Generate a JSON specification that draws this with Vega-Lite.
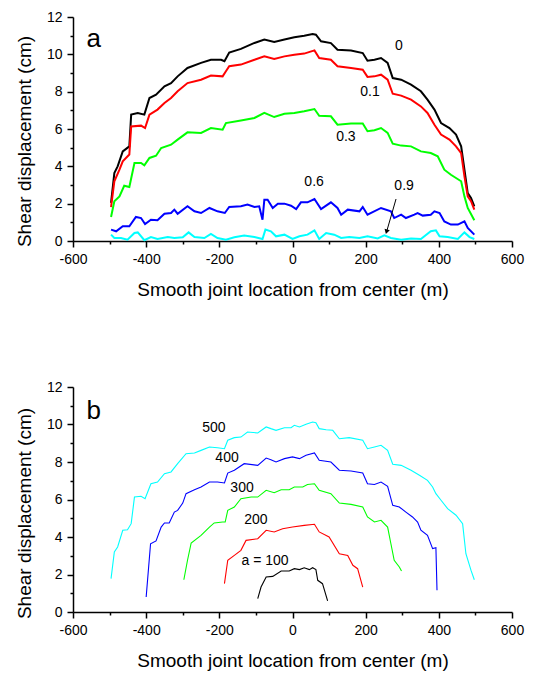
{
  "$schema": "https://vega.github.io/schema/vega-lite/v6.json",
  "padding": {"left": 15, "top": 10, "right": 5, "bottom": 5},
  "background": "white",
  "config": {
    "view": {"stroke": null},
    "font": "Liberation Sans",
    "axis": {"grid": false, "domainColor": "black", "domainWidth": 1.5, "tickColor": "black", "tickWidth": 1.5, "labelColor": "black", "labelFont": "Liberation Sans", "labelFontSize": 14, "titleFont": "Liberation Sans", "titleFontSize": 19, "titleFontWeight": "normal", "titleColor": "black", "labelFlush": false, "labelOverlap": false, "labelPadding": 5}
  },
  "datasets": {
    "curvesA": [
      {"s":"0","x":-496,"y":2.04},{"s":"0","x":-487,"y":3.64},{"s":"0","x":-478,"y":4.0},{"s":"0","x":-464,"y":4.8},{"s":"0","x":-446,"y":5.07},{"s":"0","x":-441,"y":6.77},{"s":"0","x":-423,"y":6.86},{"s":"0","x":-405,"y":6.77},{"s":"0","x":-391,"y":7.66},{"s":"0","x":-373,"y":7.84},{"s":"0","x":-350,"y":8.29},{"s":"0","x":-332,"y":8.46},{"s":"0","x":-314,"y":8.82},{"s":"0","x":-287,"y":9.27},{"s":"0","x":-250,"y":9.54},{"s":"0","x":-223,"y":9.71},{"s":"0","x":-195,"y":9.71},{"s":"0","x":-186,"y":9.63},{"s":"0","x":-173,"y":10.1},{"s":"0","x":-141,"y":10.29},{"s":"0","x":-104,"y":10.61},{"s":"0","x":-77,"y":10.79},{"s":"0","x":-50,"y":10.66},{"s":"0","x":-22,"y":10.79},{"s":"0","x":5,"y":10.91},{"s":"0","x":32,"y":11.0},{"s":"0","x":55,"y":11.09},{"s":"0","x":64,"y":11.05},{"s":"0","x":78,"y":10.7},{"s":"0","x":105,"y":10.6},{"s":"0","x":123,"y":10.25},{"s":"0","x":160,"y":10.21},{"s":"0","x":192,"y":10.07},{"s":"0","x":205,"y":9.66},{"s":"0","x":224,"y":9.71},{"s":"0","x":242,"y":9.8},{"s":"0","x":260,"y":9.54},{"s":"0","x":274,"y":8.73},{"s":"0","x":297,"y":8.64},{"s":"0","x":324,"y":8.38},{"s":"0","x":351,"y":8.02},{"s":"0","x":369,"y":7.57},{"s":"0","x":388,"y":7.04},{"s":"0","x":406,"y":6.32},{"s":"0","x":429,"y":6.05},{"s":"0","x":447,"y":5.7},{"s":"0","x":461,"y":5.07},{"s":"0","x":470,"y":3.82},{"s":"0","x":479,"y":2.57},{"s":"0","x":488,"y":2.3},{"s":"0","x":497,"y":1.86},
      {"s":"0.1","x":-496,"y":1.82},{"s":"0.1","x":-487,"y":3.2},{"s":"0.1","x":-473,"y":3.82},{"s":"0.1","x":-464,"y":4.27},{"s":"0.1","x":-446,"y":4.63},{"s":"0.1","x":-441,"y":6.14},{"s":"0.1","x":-414,"y":6.18},{"s":"0.1","x":-403,"y":6.05},{"s":"0.1","x":-391,"y":6.77},{"s":"0.1","x":-369,"y":7.04},{"s":"0.1","x":-350,"y":7.39},{"s":"0.1","x":-332,"y":7.66},{"s":"0.1","x":-314,"y":8.02},{"s":"0.1","x":-287,"y":8.46},{"s":"0.1","x":-250,"y":8.64},{"s":"0.1","x":-223,"y":8.86},{"s":"0.1","x":-191,"y":8.82},{"s":"0.1","x":-182,"y":9.09},{"s":"0.1","x":-173,"y":9.36},{"s":"0.1","x":-141,"y":9.45},{"s":"0.1","x":-104,"y":9.71},{"s":"0.1","x":-77,"y":9.89},{"s":"0.1","x":-50,"y":9.75},{"s":"0.1","x":-22,"y":9.89},{"s":"0.1","x":5,"y":9.98},{"s":"0.1","x":32,"y":10.04},{"s":"0.1","x":60,"y":10.21},{"s":"0.1","x":73,"y":9.8},{"s":"0.1","x":105,"y":9.71},{"s":"0.1","x":123,"y":9.36},{"s":"0.1","x":160,"y":9.27},{"s":"0.1","x":192,"y":9.18},{"s":"0.1","x":205,"y":8.79},{"s":"0.1","x":224,"y":8.82},{"s":"0.1","x":242,"y":8.91},{"s":"0.1","x":260,"y":8.64},{"s":"0.1","x":274,"y":7.89},{"s":"0.1","x":297,"y":7.79},{"s":"0.1","x":324,"y":7.57},{"s":"0.1","x":351,"y":7.21},{"s":"0.1","x":369,"y":6.86},{"s":"0.1","x":388,"y":6.23},{"s":"0.1","x":406,"y":5.7},{"s":"0.1","x":429,"y":5.43},{"s":"0.1","x":447,"y":5.07},{"s":"0.1","x":461,"y":4.71},{"s":"0.1","x":470,"y":3.46},{"s":"0.1","x":479,"y":2.39},{"s":"0.1","x":488,"y":2.13},{"s":"0.1","x":497,"y":1.68},
      {"s":"0.3","x":-496,"y":1.29},{"s":"0.3","x":-487,"y":2.13},{"s":"0.3","x":-473,"y":2.39},{"s":"0.3","x":-460,"y":2.96},{"s":"0.3","x":-446,"y":2.89},{"s":"0.3","x":-432,"y":4.18},{"s":"0.3","x":-414,"y":4.18},{"s":"0.3","x":-405,"y":4.05},{"s":"0.3","x":-391,"y":4.45},{"s":"0.3","x":-373,"y":4.57},{"s":"0.3","x":-359,"y":4.98},{"s":"0.3","x":-332,"y":5.16},{"s":"0.3","x":-314,"y":5.43},{"s":"0.3","x":-287,"y":5.82},{"s":"0.3","x":-250,"y":5.79},{"s":"0.3","x":-223,"y":6.05},{"s":"0.3","x":-191,"y":5.96},{"s":"0.3","x":-182,"y":6.32},{"s":"0.3","x":-141,"y":6.46},{"s":"0.3","x":-104,"y":6.59},{"s":"0.3","x":-77,"y":6.86},{"s":"0.3","x":-50,"y":6.64},{"s":"0.3","x":-22,"y":6.82},{"s":"0.3","x":5,"y":6.86},{"s":"0.3","x":32,"y":6.95},{"s":"0.3","x":60,"y":7.07},{"s":"0.3","x":73,"y":6.71},{"s":"0.3","x":105,"y":6.68},{"s":"0.3","x":123,"y":6.23},{"s":"0.3","x":160,"y":6.29},{"s":"0.3","x":192,"y":6.29},{"s":"0.3","x":205,"y":5.88},{"s":"0.3","x":224,"y":5.93},{"s":"0.3","x":242,"y":6.05},{"s":"0.3","x":260,"y":5.79},{"s":"0.3","x":274,"y":5.21},{"s":"0.3","x":297,"y":5.11},{"s":"0.3","x":324,"y":5.07},{"s":"0.3","x":351,"y":4.8},{"s":"0.3","x":378,"y":4.71},{"s":"0.3","x":397,"y":4.54},{"s":"0.3","x":415,"y":3.82},{"s":"0.3","x":433,"y":3.55},{"s":"0.3","x":461,"y":3.2},{"s":"0.3","x":470,"y":2.39},{"s":"0.3","x":479,"y":1.77},{"s":"0.3","x":497,"y":1.11},
      {"s":"0.6","x":-496,"y":0.61},{"s":"0.6","x":-482,"y":0.52},{"s":"0.6","x":-464,"y":0.79},{"s":"0.6","x":-446,"y":0.79},{"s":"0.6","x":-428,"y":1.29},{"s":"0.6","x":-414,"y":1.23},{"s":"0.6","x":-403,"y":0.91},{"s":"0.6","x":-387,"y":1.14},{"s":"0.6","x":-369,"y":1.11},{"s":"0.6","x":-350,"y":1.46},{"s":"0.6","x":-332,"y":1.5},{"s":"0.6","x":-323,"y":1.68},{"s":"0.6","x":-314,"y":1.46},{"s":"0.6","x":-287,"y":1.86},{"s":"0.6","x":-268,"y":1.59},{"s":"0.6","x":-250,"y":1.5},{"s":"0.6","x":-227,"y":1.77},{"s":"0.6","x":-205,"y":1.59},{"s":"0.6","x":-185,"y":1.5},{"s":"0.6","x":-173,"y":1.82},{"s":"0.6","x":-141,"y":1.86},{"s":"0.6","x":-123,"y":1.95},{"s":"0.6","x":-104,"y":1.82},{"s":"0.6","x":-91,"y":1.86},{"s":"0.6","x":-82,"y":1.14},{"s":"0.6","x":-77,"y":2.21},{"s":"0.6","x":-68,"y":2.21},{"s":"0.6","x":-54,"y":1.77},{"s":"0.6","x":-40,"y":2.0},{"s":"0.6","x":-22,"y":2.0},{"s":"0.6","x":-4,"y":1.89},{"s":"0.6","x":10,"y":1.71},{"s":"0.6","x":23,"y":2.07},{"s":"0.6","x":41,"y":2.07},{"s":"0.6","x":60,"y":2.25},{"s":"0.6","x":78,"y":1.71},{"s":"0.6","x":105,"y":2.07},{"s":"0.6","x":123,"y":1.77},{"s":"0.6","x":133,"y":1.41},{"s":"0.6","x":151,"y":1.68},{"s":"0.6","x":183,"y":1.59},{"s":"0.6","x":192,"y":1.82},{"s":"0.6","x":205,"y":1.41},{"s":"0.6","x":242,"y":1.77},{"s":"0.6","x":269,"y":1.59},{"s":"0.6","x":278,"y":1.23},{"s":"0.6","x":297,"y":1.41},{"s":"0.6","x":310,"y":1.23},{"s":"0.6","x":333,"y":1.41},{"s":"0.6","x":342,"y":1.5},{"s":"0.6","x":356,"y":1.36},{"s":"0.6","x":378,"y":1.41},{"s":"0.6","x":388,"y":1.59},{"s":"0.6","x":402,"y":1.5},{"s":"0.6","x":415,"y":1.05},{"s":"0.6","x":433,"y":0.88},{"s":"0.6","x":452,"y":0.88},{"s":"0.6","x":470,"y":1.05},{"s":"0.6","x":479,"y":0.7},{"s":"0.6","x":497,"y":0.34},
      {"s":"0.9","x":-496,"y":0.34},{"s":"0.9","x":-487,"y":0.16},{"s":"0.9","x":-469,"y":0.16},{"s":"0.9","x":-451,"y":0.07},{"s":"0.9","x":-432,"y":0.43},{"s":"0.9","x":-423,"y":0.46},{"s":"0.9","x":-405,"y":0.04},{"s":"0.9","x":-387,"y":0.21},{"s":"0.9","x":-369,"y":0.11},{"s":"0.9","x":-341,"y":0.21},{"s":"0.9","x":-323,"y":0.16},{"s":"0.9","x":-300,"y":0.2},{"s":"0.9","x":-284,"y":0.46},{"s":"0.9","x":-268,"y":0.21},{"s":"0.9","x":-241,"y":0.16},{"s":"0.9","x":-223,"y":0.38},{"s":"0.9","x":-205,"y":0.16},{"s":"0.9","x":-182,"y":0.07},{"s":"0.9","x":-159,"y":0.2},{"s":"0.9","x":-132,"y":0.29},{"s":"0.9","x":-104,"y":0.21},{"s":"0.9","x":-82,"y":0.11},{"s":"0.9","x":-74,"y":0.61},{"s":"0.9","x":-59,"y":0.52},{"s":"0.9","x":-45,"y":0.25},{"s":"0.9","x":-22,"y":0.34},{"s":"0.9","x":0,"y":0.11},{"s":"0.9","x":19,"y":0.25},{"s":"0.9","x":41,"y":0.34},{"s":"0.9","x":60,"y":0.57},{"s":"0.9","x":73,"y":0.11},{"s":"0.9","x":92,"y":0.43},{"s":"0.9","x":114,"y":0.34},{"s":"0.9","x":133,"y":0.16},{"s":"0.9","x":155,"y":0.21},{"s":"0.9","x":183,"y":0.16},{"s":"0.9","x":205,"y":0.25},{"s":"0.9","x":233,"y":0.14},{"s":"0.9","x":251,"y":0.3},{"s":"0.9","x":269,"y":0.16},{"s":"0.9","x":297,"y":0.07},{"s":"0.9","x":324,"y":0.14},{"s":"0.9","x":351,"y":0.11},{"s":"0.9","x":378,"y":0.52},{"s":"0.9","x":392,"y":0.57},{"s":"0.9","x":402,"y":0.25},{"s":"0.9","x":424,"y":0.21},{"s":"0.9","x":452,"y":0.11},{"s":"0.9","x":470,"y":0.46},{"s":"0.9","x":484,"y":0.21},{"s":"0.9","x":497,"y":0.11}
    ],
    "curvesB": [
      {"s":"500","x":-496,"y":1.78},{"s":"500","x":-487,"y":3.2},{"s":"500","x":-478,"y":3.47},{"s":"500","x":-464,"y":4.36},{"s":"500","x":-451,"y":4.39},{"s":"500","x":-441,"y":4.71},{"s":"500","x":-432,"y":6.13},{"s":"500","x":-414,"y":6.17},{"s":"500","x":-403,"y":6.04},{"s":"500","x":-387,"y":6.84},{"s":"500","x":-369,"y":6.93},{"s":"500","x":-350,"y":7.38},{"s":"500","x":-332,"y":7.47},{"s":"500","x":-314,"y":7.91},{"s":"500","x":-291,"y":8.44},{"s":"500","x":-268,"y":8.48},{"s":"500","x":-250,"y":8.62},{"s":"500","x":-227,"y":8.8},{"s":"500","x":-205,"y":8.76},{"s":"500","x":-186,"y":8.71},{"s":"500","x":-177,"y":9.16},{"s":"500","x":-159,"y":9.3},{"s":"500","x":-141,"y":9.33},{"s":"500","x":-123,"y":9.6},{"s":"500","x":-95,"y":9.55},{"s":"500","x":-72,"y":9.87},{"s":"500","x":-59,"y":9.78},{"s":"500","x":-45,"y":9.69},{"s":"500","x":-22,"y":9.83},{"s":"500","x":-4,"y":9.83},{"s":"500","x":5,"y":9.96},{"s":"500","x":19,"y":9.87},{"s":"500","x":37,"y":10.01},{"s":"500","x":55,"y":10.13},{"s":"500","x":64,"y":10.1},{"s":"500","x":73,"y":9.78},{"s":"500","x":92,"y":9.72},{"s":"500","x":110,"y":9.69},{"s":"500","x":128,"y":9.24},{"s":"500","x":155,"y":9.3},{"s":"500","x":192,"y":9.16},{"s":"500","x":205,"y":8.71},{"s":"500","x":224,"y":8.8},{"s":"500","x":242,"y":8.89},{"s":"500","x":260,"y":8.62},{"s":"500","x":274,"y":7.88},{"s":"500","x":297,"y":7.82},{"s":"500","x":324,"y":7.56},{"s":"500","x":347,"y":7.29},{"s":"500","x":369,"y":7.02},{"s":"500","x":383,"y":6.67},{"s":"500","x":392,"y":6.31},{"s":"500","x":406,"y":5.96},{"s":"500","x":424,"y":5.51},{"s":"500","x":447,"y":5.16},{"s":"500","x":465,"y":4.71},{"s":"500","x":474,"y":3.11},{"s":"500","x":488,"y":2.22},{"s":"500","x":497,"y":1.72},
      {"s":"400","x":-400,"y":0.8},{"s":"400","x":-388,"y":3.64},{"s":"400","x":-373,"y":3.79},{"s":"400","x":-359,"y":4.53},{"s":"400","x":-350,"y":4.75},{"s":"400","x":-337,"y":4.75},{"s":"400","x":-323,"y":5.33},{"s":"400","x":-314,"y":5.42},{"s":"400","x":-300,"y":5.81},{"s":"400","x":-291,"y":6.31},{"s":"400","x":-268,"y":6.52},{"s":"400","x":-250,"y":6.67},{"s":"400","x":-227,"y":6.93},{"s":"400","x":-205,"y":6.93},{"s":"400","x":-186,"y":6.88},{"s":"400","x":-177,"y":7.41},{"s":"400","x":-159,"y":7.56},{"s":"400","x":-132,"y":7.91},{"s":"400","x":-95,"y":7.82},{"s":"400","x":-72,"y":8.21},{"s":"400","x":-59,"y":8.12},{"s":"400","x":-45,"y":8.0},{"s":"400","x":-22,"y":8.18},{"s":"400","x":0,"y":8.27},{"s":"400","x":19,"y":8.18},{"s":"400","x":37,"y":8.36},{"s":"400","x":60,"y":8.48},{"s":"400","x":73,"y":8.09},{"s":"400","x":105,"y":8.0},{"s":"400","x":128,"y":7.56},{"s":"400","x":160,"y":7.52},{"s":"400","x":192,"y":7.41},{"s":"400","x":205,"y":6.84},{"s":"400","x":224,"y":6.8},{"s":"400","x":242,"y":6.93},{"s":"400","x":260,"y":6.7},{"s":"400","x":274,"y":5.69},{"s":"400","x":292,"y":5.6},{"s":"400","x":310,"y":5.33},{"s":"400","x":328,"y":5.07},{"s":"400","x":342,"y":4.8},{"s":"400","x":351,"y":4.36},{"s":"400","x":369,"y":4.09},{"s":"400","x":383,"y":3.38},{"s":"400","x":392,"y":3.43},{"s":"400","x":395,"y":1.16},
      {"s":"300","x":-297,"y":1.72},{"s":"300","x":-287,"y":2.76},{"s":"300","x":-277,"y":3.68},{"s":"300","x":-250,"y":4.09},{"s":"300","x":-227,"y":4.53},{"s":"300","x":-214,"y":4.75},{"s":"300","x":-191,"y":4.8},{"s":"300","x":-184,"y":4.8},{"s":"300","x":-177,"y":5.42},{"s":"300","x":-159,"y":5.6},{"s":"300","x":-141,"y":6.04},{"s":"300","x":-113,"y":6.13},{"s":"300","x":-95,"y":6.13},{"s":"300","x":-72,"y":6.49},{"s":"300","x":-50,"y":6.36},{"s":"300","x":-31,"y":6.52},{"s":"300","x":-9,"y":6.52},{"s":"300","x":5,"y":6.67},{"s":"300","x":28,"y":6.67},{"s":"300","x":41,"y":6.8},{"s":"300","x":60,"y":6.84},{"s":"300","x":73,"y":6.49},{"s":"300","x":105,"y":6.31},{"s":"300","x":128,"y":5.81},{"s":"300","x":160,"y":5.74},{"s":"300","x":192,"y":5.6},{"s":"300","x":205,"y":5.07},{"s":"300","x":224,"y":4.8},{"s":"300","x":242,"y":4.89},{"s":"300","x":260,"y":4.53},{"s":"300","x":269,"y":3.64},{"s":"300","x":278,"y":2.76},{"s":"300","x":292,"y":2.4},{"s":"300","x":298,"y":2.19},
      {"s":"200","x":-186,"y":1.51},{"s":"200","x":-177,"y":2.76},{"s":"200","x":-159,"y":3.02},{"s":"200","x":-141,"y":3.29},{"s":"200","x":-127,"y":3.82},{"s":"200","x":-95,"y":3.91},{"s":"200","x":-72,"y":4.36},{"s":"200","x":-50,"y":4.27},{"s":"200","x":-27,"y":4.44},{"s":"200","x":0,"y":4.53},{"s":"200","x":32,"y":4.62},{"s":"200","x":60,"y":4.68},{"s":"200","x":73,"y":4.27},{"s":"200","x":100,"y":4.0},{"s":"200","x":128,"y":3.11},{"s":"200","x":151,"y":3.02},{"s":"200","x":165,"y":2.49},{"s":"200","x":178,"y":2.31},{"s":"200","x":192,"y":1.33},
      {"s":"100","x":-95,"y":0.71},{"s":"100","x":-86,"y":1.33},{"s":"100","x":-72,"y":1.87},{"s":"100","x":-54,"y":1.9},{"s":"100","x":-31,"y":2.19},{"s":"100","x":-9,"y":2.19},{"s":"100","x":5,"y":2.31},{"s":"100","x":19,"y":2.26},{"s":"100","x":32,"y":2.36},{"s":"100","x":46,"y":2.26},{"s":"100","x":55,"y":2.36},{"s":"100","x":64,"y":2.26},{"s":"100","x":69,"y":1.69},{"s":"100","x":82,"y":1.51},{"s":"100","x":96,"y":0.59}
    ],
    "labelsA": [
      {"x":291,"y":10.45,"t":"0"},{"x":212,"y":7.98,"t":"0.1"},{"x":146,"y":5.57,"t":"0.3"},{"x":59,"y":3.16,"t":"0.6"},{"x":305,"y":2.95,"t":"0.9"}
    ],
    "labelsB": [
      {"x":-215,"y":9.8,"t":"500"},{"x":-179,"y":8.2,"t":"400"},{"x":-138,"y":6.6,"t":"300"},{"x":-100,"y":4.9,"t":"200"},{"x":-75,"y":2.7,"t":"a = 100"}
    ],
    "arrow": [{"x":283,"y":2.25},{"x":258,"y":0.55}],
    "arrowHead": [{"x":257,"y":0.5}],
    "panelA": [{"x":-543,"y":10.41,"t":"a"}],
    "panelB": [{"x":-543,"y":10.31,"t":"b"}]
  },
  "spacing": 146,
  "bounds": "flush",
  "vconcat": [
    {
      "width": 439,
      "height": 224,
      "encoding": {
        "x": {"field": "x", "type": "quantitative", "scale": {"domain": [-600, 600], "nice": false, "zero": false},
          "axis": {"title": "Smooth joint location from center (m)", "values": [-600,-500,-400,-300,-200,-100,0,100,200,300,400,500,600], "labelExpr": "datum.value % 200 === 0 ? '' + datum.value : ''", "tickSize": {"condition": {"test": "datum.value % 200 === 0", "value": 6}, "value": 3}, "titlePadding": 14}},
        "y": {"field": "y", "type": "quantitative", "scale": {"domain": [0, 12], "nice": false},
          "axis": {"title": "Shear displacement (cm)", "values": [0,1,2,3,4,5,6,7,8,9,10,11,12], "labelExpr": "datum.value % 2 === 0 ? '' + datum.value : ''", "tickSize": {"condition": {"test": "datum.value % 2 === 0", "value": 6}, "value": 3}, "titlePadding": 12, "titleY": 124}}
      },
      "layer": [
        {"data": {"name": "curvesA"}, "mark": {"type": "line", "strokeWidth": 2},
          "encoding": {"color": {"field": "s", "type": "nominal", "scale": {"domain": ["0","0.1","0.3","0.6","0.9"], "range": ["#000000","#ff0000","#00ff00","#0000ff","#00ffff"]}, "legend": null}}},
        {"data": {"name": "labelsA"}, "mark": {"type": "text", "fontSize": 14, "font": "Liberation Sans", "color": "black", "align": "center", "baseline": "middle"},
          "encoding": {"text": {"field": "t"}}},
        {"data": {"name": "arrow"}, "mark": {"type": "line", "color": "black", "strokeWidth": 1}, "encoding": {}},
        {"data": {"name": "arrowHead"}, "mark": {"type": "point", "shape": "triangle-up", "filled": true, "color": "black", "size": 30, "angle": 196, "opacity": 1}, "encoding": {}},
        {"data": {"name": "panelA"}, "mark": {"type": "text", "fontSize": 26, "font": "Liberation Sans", "color": "black", "align": "center", "baseline": "alphabetic"},
          "encoding": {"text": {"field": "t"}}}
      ]
    },
    {
      "width": 439,
      "height": 225,
      "encoding": {
        "x": {"field": "x", "type": "quantitative", "scale": {"domain": [-600, 600], "nice": false, "zero": false},
          "axis": {"title": "Smooth joint location from center (m)", "values": [-600,-500,-400,-300,-200,-100,0,100,200,300,400,500,600], "labelExpr": "datum.value % 200 === 0 ? '' + datum.value : ''", "tickSize": {"condition": {"test": "datum.value % 200 === 0", "value": 6}, "value": 3}, "titlePadding": 14}},
        "y": {"field": "y", "type": "quantitative", "scale": {"domain": [0, 12], "nice": false},
          "axis": {"title": "Shear displacement (cm)", "values": [0,1,2,3,4,5,6,7,8,9,10,11,12], "labelExpr": "datum.value % 2 === 0 ? '' + datum.value : ''", "tickSize": {"condition": {"test": "datum.value % 2 === 0", "value": 6}, "value": 3}, "titlePadding": 12, "titleY": 126}}
      },
      "layer": [
        {"data": {"name": "curvesB"}, "mark": {"type": "line", "strokeWidth": 1.1},
          "encoding": {"color": {"field": "s", "type": "nominal", "scale": {"domain": ["100","200","300","400","500"], "range": ["#000000","#ff0000","#00ff00","#0000ff","#00ffff"]}, "legend": null}}},
        {"data": {"name": "labelsB"}, "mark": {"type": "text", "fontSize": 14, "font": "Liberation Sans", "color": "black", "align": "center", "baseline": "middle"},
          "encoding": {"text": {"field": "t"}}},
        {"data": {"name": "panelB"}, "mark": {"type": "text", "fontSize": 26, "font": "Liberation Sans", "color": "black", "align": "center", "baseline": "alphabetic"},
          "encoding": {"text": {"field": "t"}}}
      ],
      "resolve": {"scale": {"color": "independent"}}
    }
  ],
  "resolve": {"scale": {"color": "independent"}}
}
